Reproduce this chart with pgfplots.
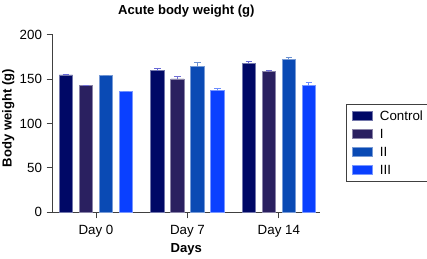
\documentclass[border=0pt]{standalone}
\usepackage{fontspec}
\setmainfont{Liberation Sans}
\usepackage{pgfplots}
\pgfplotsset{compat=1.18}
\usetikzlibrary{calc}
\definecolor{cCtrl}{RGB}{0,8,102}
\definecolor{cI}{RGB}{42,32,96}
\definecolor{cII}{RGB}{10,74,180}
\definecolor{cIII}{RGB}{10,64,255}
\begin{document}
\begin{tikzpicture}
\begin{axis}[
  width=200.5pt, height=133pt, scale only axis,
  xmin=-0.474, xmax=2.45, ymin=0, ymax=200,
  axis lines=left,
  axis line style={-, line width=0.75pt, black!75},
  ybar=5pt, bar width=10pt,
  xtick={0,1,2}, xticklabels={Day 0, Day 7, Day 14},
  ytick={0,50,100,150,200},
  tick style={line width=0.75pt, black!75},
  tick align=outside, major tick length=4.5pt,
  /pgf/number format/assume math mode=true,
  tick label style={font=\fontsize{10}{12}\selectfont},
  xticklabel style={yshift=-1.5pt},
  xlabel={Days},
  xlabel style={at={(axis description cs:0.5,-0.2274)}, anchor=base, font=\fontsize{9.8}{12}\selectfont\bfseries},
  ylabel={Body weight (g)},
  ylabel style={at={(axis description cs:-0.1534,0.531)}, anchor=base, font=\fontsize{9.8}{12}\selectfont\bfseries},
  legend cell align=left,
  legend image code/.code={\draw[#1, line width=0.4pt] (0pt,-3.3pt) rectangle (15pt,3.3pt);},
  legend style={at={(axis description cs:1.096,0.611)}, anchor=north west,
    draw=black!75, line width=0.6pt, font=\fontsize{10}{12}\selectfont,
    inner xsep=4.5pt, inner ysep=4.5pt, row sep=5.5pt, column sep=5.5pt,
    nodes={inner sep=0pt, text height=7.5pt, text depth=0.5pt}},
  error bars/y dir=plus, error bars/y explicit,
]
\coordinate (LL) at (rel axis cs:0,0);
\coordinate (UR) at (rel axis cs:1,1);
\addplot[fill=cCtrl, draw=cCtrl!55!white, line width=0.5pt,
  error bars/error bar style={line width=0.75pt, cCtrl!45!blue!60!white},
  error bars/error mark options={rotate=90, mark size=2.5pt, line width=0.75pt, cCtrl!45!blue!60!white}]
  coordinates {(0,155) +- (0,0) (1,159.8) +- (0,2.7) (2,168) +- (0,2)};
\addplot[fill=cI, draw=cI!55!white, line width=0.5pt,
  error bars/error bar style={line width=0.75pt, cI!45!blue!60!white},
  error bars/error mark options={rotate=90, mark size=2.5pt, line width=0.75pt, cI!45!blue!60!white}]
  coordinates {(0,142.9) +- (0,0) (1,150.4) +- (0,3) (2,158.7) +- (0,1.2)};
\addplot[fill=cII, draw=cII!55!white, line width=0.5pt,
  error bars/error bar style={line width=0.75pt, cII!60!white},
  error bars/error mark options={rotate=90, mark size=2.5pt, line width=0.75pt, cII!60!white}]
  coordinates {(0,154.4) +- (0,0) (1,164.3) +- (0,4.4) (2,172.9) +- (0,1.5)};
\addplot[fill=cIII, draw=cIII!55!white, line width=0.5pt,
  error bars/error bar style={line width=0.75pt, cIII!60!white},
  error bars/error mark options={rotate=90, mark size=2.5pt, line width=0.75pt, cIII!60!white}]
  coordinates {(0,136.3) +- (0,0) (1,137.3) +- (0,2.1) (2,142.9) +- (0,3.3)};
\legend{Control, I, II, III}
\end{axis}
\node[anchor=base, font=\fontsize{9.8}{12}\selectfont\bfseries, inner sep=0pt]
  at ($(LL)!0.5!(UR|-LL)+(0,133pt+15.5pt)$) {Acute body weight (g)};
\pgfresetboundingbox
\path ($(LL)+(-39.5pt,-34.9pt)$) rectangle ($(UR)+(80.25pt,26.25pt)$);
\end{tikzpicture}
\end{document}
